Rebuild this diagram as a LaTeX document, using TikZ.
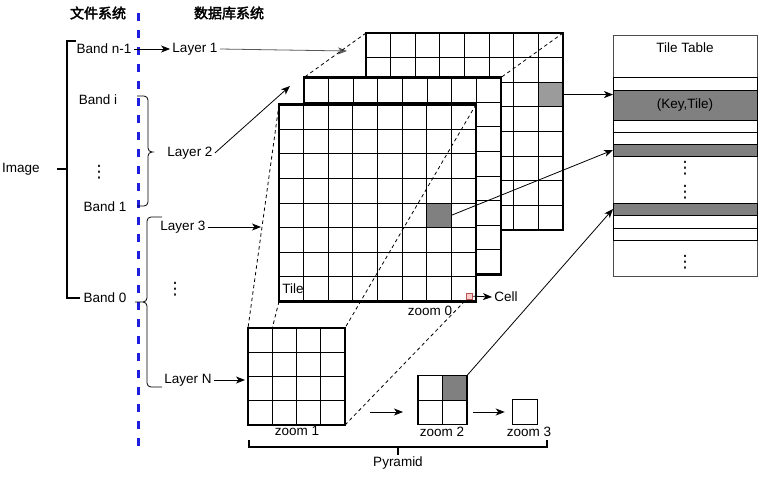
\documentclass[tikz,border=0pt]{standalone}
\usepackage{fontspec}
\setmainfont{Liberation Sans}
\newfontfamily\cjk{Noto Sans CJK SC}[AutoFakeBold=2.5]
\newfontfamily\symfont{DejaVu Sans}
\usetikzlibrary{arrows.meta,calc}
\definecolor{fsblue}{RGB}{30,30,225}
\definecolor{cellgray}{RGB}{128,128,128}
\definecolor{backgray}{RGB}{155,155,155}
\definecolor{pinkfill}{RGB}{248,206,204}
\definecolor{pinkline}{RGB}{184,84,80}
\begin{document}
\begin{tikzpicture}[x=1pt,y=-1pt,line width=0.8pt,>={Stealth[length=9pt,width=7pt,inset=2.5pt]},
 every node/.style={font=\fontsize{13.5}{16}\selectfont,inner sep=2pt},
 tilebox/.style={fill=white,inner sep=0pt,outer sep=0pt,minimum size=197pt},
 cellbox/.style={inner sep=0pt,outer sep=0pt,minimum size=24.625pt},
 lvbox/.style={draw,fill=white,line width=1.2pt,inner sep=0pt,outer sep=0pt},
 gridline/.style={line width=0.8pt},
 link/.style={dash pattern=on 3.5pt off 3pt,line width=0.8pt},
 trow/.style={draw,line width=1pt,inner sep=0pt,outer sep=0pt,minimum width=144pt},
 dots/.style={font={\symfont\fontsize{17}{18}\selectfont},inner sep=0pt},
 head/.style={font={\cjk\fontsize{14}{16}\selectfont\bfseries}}]
\useasboundingbox (0,0) rectangle (768,482);
\node[head] (fs) at (98,13) {文件系统};
\node[head] (db) at (229,13) {数据库系统};
\draw[fsblue,line width=3pt,dash pattern=on 8pt off 9pt] (138,13) -- (138,452);
\node (img) at (21,169) {Image};
\node (bn1) at (104,49) {Band n-1};
\node (bi) at (98,100) {Band i};
\node[dots] (bd) at (99,172) {⋮};
\node (b1) at (105,207) {Band 1};
\node (b0) at (105,298) {Band 0};
\node (l1) at (195,49) {Layer 1};
\node (l2) at (190,153) {Layer 2};
\node (l3) at (183,227) {Layer 3};
\node[dots] (ld) at (175,289) {⋮};
\node (ln) at (188,380) {Layer N};
\draw[line width=2pt] (76,41) -- (67,41) -- (67,298) -- (80,298) (57,169) -- (67,169);
\draw[rounded corners=4pt] (137,96) -- (148,96) -- (148,152) -- (154,152) (154,152) -- (148,152) -- (148,206) -- (137,206);
\draw[rounded corners=4pt] (162,217) -- (147,217) -- (147,302) -- (135,302) (135,302) -- (147,302) -- (147,387) -- (162,387);
\foreach \g/\cx/\cy/\i/\j/\col in {g1/464.5/131.5/8/3/backgray,g2/402.5/176/1/1/white,g3/377.5/203/7/5/cellgray}{
 \node[tilebox] (\g) at (\cx,\cy) {};
 \node[cellbox,fill=\col,anchor=south east] (\g-c) at ($(\g.north west)+(\i*24.625,\j*24.625)$) {};
 \foreach \k in {1,...,7}{\draw[gridline] ($(\g.north west)+(\k*24.625,0)$) -- ++(0,197); \draw[gridline] ($(\g.north west)+(0,\k*24.625)$) -- ++(197,0);}
 \draw[line width=2.6pt] (\g.north west) rectangle (\g.south east);}
\node[draw=pinkline,fill=pinkfill,line width=0.7pt,minimum size=6pt,inner sep=0pt,anchor=south east] (pk) at ($(g3.south east)+(-3,-2)$) {};
\node[anchor=west,inner sep=1pt] (tl) at (281,289) {Tile};
\node (zl0) at (430,311) {zoom 0};
\node (cl) at (506,297) {Cell};
\node[lvbox,minimum size=97pt] (z1) at (296.5,376.5) {};
\foreach \k in {1,2,3}{\draw[gridline] ($(z1.north west)+(\k*24.25,0)$) -- ++(0,97); \draw[gridline] ($(z1.north west)+(0,\k*24.25)$) -- ++(97,0);}
\node[lvbox,minimum size=49pt] (z2) at (442.5,400) {};
\fill[cellgray] (z2.north) rectangle (z2.east);
\draw[gridline] (z2.north) -- (z2.south) (z2.west) -- (z2.east);
\draw[line width=1.2pt] (z2.north west) rectangle (z2.south east);
\node[lvbox,minimum size=24.5pt] (z3) at (525,412) {};
\node (zl1) at (297,431) {zoom 1};
\node (zl2) at (442,432) {zoom 2};
\node (zl3) at (529,432) {zoom 3};
\draw[line width=1.5pt] (249,440) -- (249,447) -- (547,447) -- (547,440) (398,447) -- (398,455);
\node (pyr) at (398,463) {Pyramid};
\node[draw=black!70,line width=0.8pt,minimum width=144pt,minimum height=241pt,inner sep=0pt,outer sep=0pt,anchor=north west] (tt) at (613,35) {};
\node (ttl) at (685,48) {Tile Table};
\foreach \y/\h in {77/13,120/12,132/12,215/13,228/12}{\draw[trow] (613,\y) rectangle ++(144,\h);}
\node[trow,fill=cellgray,minimum height=30pt] (kt) at (685,105) {(Key,Tile)};
\node[trow,fill=cellgray,minimum height=12pt] (r2) at (685,150) {};
\node[trow,fill=cellgray,minimum height=12pt] (r3) at (685,209) {};
\node[dots] (td1) at (685,168) {⋮};
\node[dots] (td2) at (685,192) {⋮};
\node[dots] (td3) at (685,262) {⋮};
\coordinate (a1) at (347,51);
\coordinate (a2) at (290,86);
\coordinate (a3) at (261,227);
\draw[->] (bn1.east) -- (l1.west);
\draw[->,black!65] (l1.east) -- (a1);
\draw[->] (l2.east) -- (a2);
\draw[->] (l3.east) -- (a3);
\draw[->,shorten >=3pt] (ln.east) -- (z1.west |- ln);
\draw[->] (pk.east) -- (cl.west);
\draw[->] (g1-c.east) -- (kt.west |- g1-c.east);
\draw[->] (g3-c.east) -- (r2.west);
\draw[->] (z2.north east) -- (r3.west);
\draw[->,shorten <=25pt,shorten >=15pt] (z1.east |- z3) -- (z2.west |- z3);
\draw[->,shorten <=6pt,shorten >=8pt] (z2.east |- z3) -- (z3.west);
\draw[link] (g1.north west) -- (g2.north west) (g1.north east) -- (g2.north east) (g3.north west) -- (z1.north west) (g3.south west) -- ($(z1.north west)+(24.25,0)$) (g3.north east) -- (z1.north east) (z1.south east) -- (pk.south west);
\end{tikzpicture}
\end{document}
